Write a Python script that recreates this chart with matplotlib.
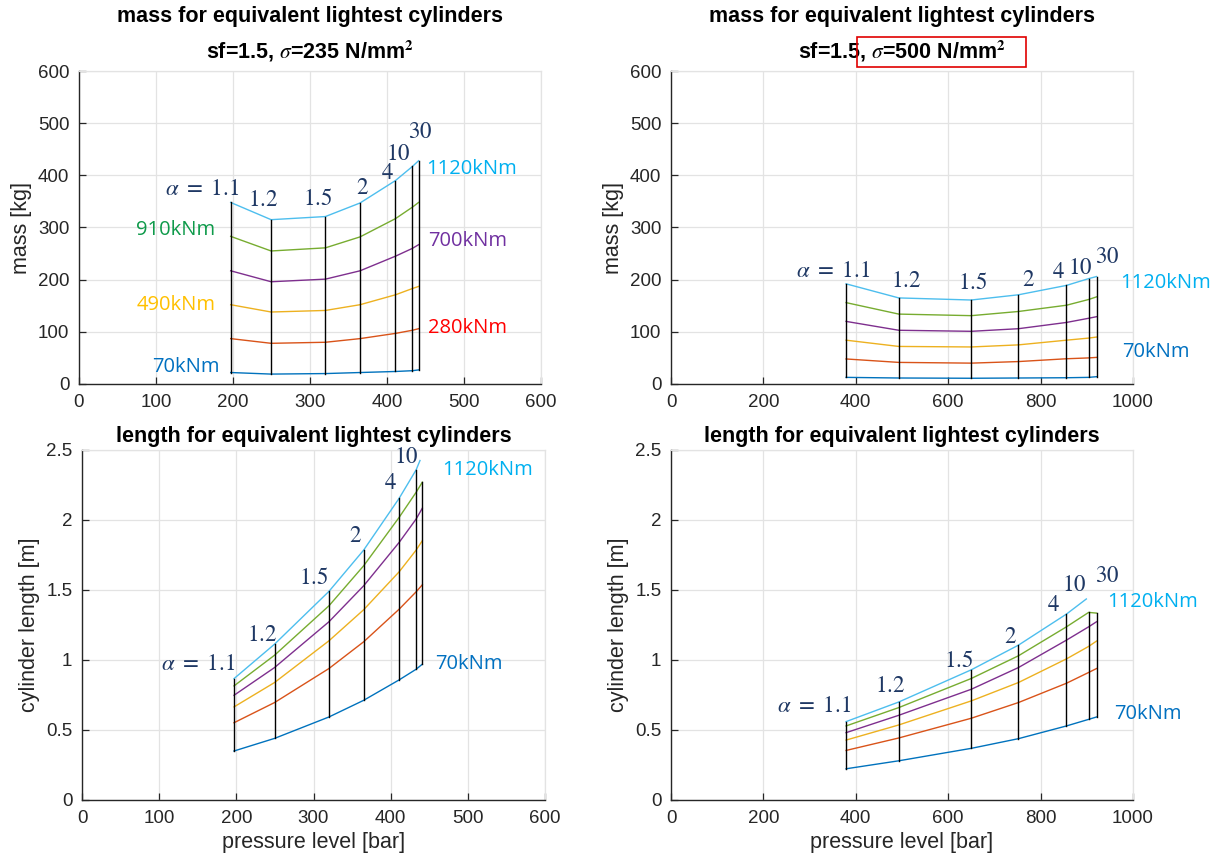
import numpy as np
import matplotlib
matplotlib.use('Agg')
import matplotlib.pyplot as plt
from matplotlib.patches import Rectangle

plt.rcParams['font.family'] = ['Liberation Sans', 'DejaVu Sans']
plt.rcParams['mathtext.fontset'] = 'stix'

# torque levels (one curve each) and slenderness ratios alpha (one vertical line each)
torques = [70, 280, 490, 700, 910, 1120]
alphas = ['1.1', '1.2', '1.5', '2', '4', '10', '30']

# pressure level [bar] of each alpha, for the two materials
p_235 = [197, 249.5, 320, 365, 411, 433, 441]
p_500 = [379, 493, 650, 752, 856, 904, 921]

# mass [kg], rows = torques, columns = alphas
mass_235 = [
    [22, 19, 20, 22, 24, 25.5, 27],
    [87, 78, 80, 87, 97, 103, 106],
    [152, 138, 141, 152, 171, 183, 187],
    [217, 196, 201, 217, 245, 260, 267],
    [283, 255, 261, 282, 317, 339, 348],
    [348, 315, 321, 347, 390, 417, 428],
]
mass_500 = [
    [12.7, 11.5, 11, 11.5, 12, 12.7, 14],
    [48, 41.4, 40, 43, 48.4, 50, 51],
    [84, 72, 71, 75, 84, 88, 90],
    [120, 103, 101, 106, 118, 126, 129],
    [156, 134, 131, 139, 151, 162, 167],
    [192, 165, 161, 171, 189, 202, 206],
]

# cylinder length [m]; the 1120kNm curve stops early and ends at its own last point
nan = np.nan
len_235 = [
    [0.350, 0.440, 0.593, 0.712, 0.858, 0.934, 0.970],
    [0.552, 0.696, 0.939, 1.130, 1.363, 1.487, 1.537],
    [0.665, 0.839, 1.137, 1.359, 1.630, 1.785, 1.852],
    [0.748, 0.946, 1.273, 1.530, 1.840, 2.007, 2.084],
    [0.815, 1.034, 1.387, 1.673, 2.019, 2.198, 2.270],
    [0.867, 1.113, 1.490, 1.785, 2.155, 2.358, nan],
]
len_235_end = (438, 2.425)
len_500 = [
    [0.223, 0.280, 0.369, 0.438, 0.529, 0.576, 0.593],
    [0.354, 0.443, 0.584, 0.696, 0.834, 0.911, 0.939],
    [0.428, 0.536, 0.708, 0.839, 1.008, 1.097, 1.135],
    [0.481, 0.605, 0.791, 0.946, 1.142, 1.237, 1.273],
    [0.529, 0.660, 0.868, 1.030, 1.237, 1.340, 1.335],
    [0.560, 0.700, 0.930, 1.106, 1.328, nan, nan],
]
len_500_end = (899, 1.436)

line_colors = ['#0072BD', '#D95319', '#EDB120', '#7E2F8E', '#77AC30', '#4DBEEE']
label_colors = {70: '#0070C0', 280: '#FF0000', 490: '#FFC000',
                700: '#7030A0', 910: '#0E9A4A', 1120: '#00B0F0'}
alpha_color = '#1F3864'


def draw_grid(ax, p, vals, end=None):
    vals = np.array(vals, dtype=float)
    for i, row in enumerate(vals):
        ok = ~np.isnan(row)
        xs = list(np.array(p)[ok])
        ys = list(row[ok])
        if end is not None and i == len(vals) - 1:
            xs.append(end[0])
            ys.append(end[1])
        ax.plot(xs, ys, color=line_colors[i], lw=1.0)
    for j, pj in enumerate(p):
        col = vals[:, j]
        ax.plot([pj, pj], [np.nanmin(col), np.nanmax(col)], color='k', lw=1.0)


def style(ax, xmax, xstep, ymax, ystep, yfmt=None):
    ax.set_xlim(0, xmax)
    ax.set_ylim(0, ymax)
    ax.set_xticks(np.arange(0, xmax + 1e-9, xstep))
    ax.set_yticks(np.arange(0, ymax + 1e-9, ystep))
    if yfmt:
        ax.set_yticklabels([yfmt(v) for v in ax.get_yticks()])
    ax.grid(True, color='#e3e3e3', lw=0.9)
    ax.set_axisbelow(True)
    for s in ['top', 'right']:
        ax.spines[s].set_color('#e3e3e3')
        ax.spines[s].set_linewidth(0.9)
    for s in ['left', 'bottom']:
        ax.spines[s].set_color('#262626')
        ax.spines[s].set_linewidth(1.0)
    ax.tick_params(direction='in', length=5, width=0.9, colors='#262626',
                   labelsize=13.5, pad=7)


def put_alpha_labels(ax, pos):
    for a, (x, y) in zip(alphas, pos):
        if x is None:
            continue
        s = r'$\alpha\ =\ 1.1$' if a == '1.1' else '$' + a + '$'
        ax.text(x, y, s, color=alpha_color, fontsize=16.5, ha='center', va='center')


def put_torque_labels(ax, items):
    for t, x, y, ha in items:
        ax.text(x, y, '%dkNm' % t, color=label_colors[t], fontsize=14.5,
                family=['Open Sans', 'DejaVu Sans'], ha=ha, va='center')


def len_fmt(v):
    return '%g' % v


fig = plt.figure(figsize=(12.17, 8.66), dpi=100)
W, H = 1217, 866

ax1 = fig.add_axes([79 / W, 1 - 384 / H, 462 / W, 313 / H])
ax2 = fig.add_axes([671 / W, 1 - 384 / H, 462 / W, 313 / H])
ax3 = fig.add_axes([82 / W, 1 - 800 / H, 463 / W, 350 / H])
ax4 = fig.add_axes([671 / W, 1 - 800 / H, 462 / W, 350 / H])

# mass, sigma = 235
draw_grid(ax1, p_235, mass_235)
style(ax1, 600, 100, 600, 100)
ax1.set_title('mass for equivalent lightest cylinders\n'
              r'sf=1.5, $\sigma$=235 N/mm$^{\mathbf{2}}$',
              fontsize=15.5, fontweight='bold', linespacing=1.5, pad=9)
ax1.set_ylabel('mass [kg]', fontsize=15.5, color='#262626')
put_alpha_labels(ax1, [(160, 374), (239, 353), (310, 355), (368, 377),
                       (401, 405), (415, 442), (443, 484)])
put_torque_labels(ax1, [(1120, 451, 412, 'left'), (910, 177, 296, 'right'),
                        (700, 453, 275, 'left'), (490, 177, 151, 'right'),
                        (280, 453, 108, 'left'), (70, 182, 33, 'right')])

# mass, sigma = 500
draw_grid(ax2, p_500, mass_500)
style(ax2, 1000, 200, 600, 100)
ax2.set_title('mass for equivalent lightest cylinders\n'
              r'sf=1.5, $\sigma$=500 N/mm$^{\mathbf{2}}$',
              fontsize=15.5, fontweight='bold', linespacing=1.5, pad=9)
ax2.set_ylabel('mass [kg]', fontsize=15.5, color='#262626')
put_alpha_labels(ax2, [(350, 218), (509, 199), (652, 194), (773, 200),
                       (838, 216), (885, 223), (943, 245)])
put_torque_labels(ax2, [(1120, 972, 194, 'left'), (70, 976, 62, 'left')])
fig.add_artist(Rectangle((857 / W, 1 - 67 / H), 169 / W, 30 / H,
                         transform=fig.transFigure, fill=False,
                         edgecolor='#E00000', lw=1.2))

# length, sigma = 235
draw_grid(ax3, p_235, len_235, len_235_end)
style(ax3, 600, 100, 2.5, 0.5, len_fmt)
ax3.set_title('length for equivalent lightest cylinders',
              fontsize=15.5, fontweight='bold', pad=6)
ax3.set_ylabel('cylinder length [m]', fontsize=15.5, color='#262626')
ax3.set_xlabel('pressure level [bar]', fontsize=15.5, color='#262626')
put_alpha_labels(ax3, [(150, 0.977), (233, 1.184), (300, 1.59), (355, 1.888),
                       (399, 2.265), (420, 2.455), (None, None)])
put_torque_labels(ax3, [(1120, 467, 2.36, 'left'), (70, 457, 0.97, 'left')])

# length, sigma = 500
draw_grid(ax4, p_500, len_500, len_500_end)
style(ax4, 1000, 200, 2.5, 0.5, len_fmt)
ax4.set_title('length for equivalent lightest cylinders',
              fontsize=15.5, fontweight='bold', pad=6)
ax4.set_ylabel('cylinder length [m]', fontsize=15.5, color='#262626')
ax4.set_xlabel('pressure level [bar]', fontsize=15.5, color='#262626')
put_alpha_labels(ax4, [(310, 0.677), (475, 0.815), (622, 0.994), (734, 1.168),
                       (827, 1.395), (872, 1.536), (944, 1.607)])
put_torque_labels(ax4, [(1120, 944, 1.416, 'left'), (70, 960, 0.612, 'left')])

fig.savefig('out.png', dpi=100)
